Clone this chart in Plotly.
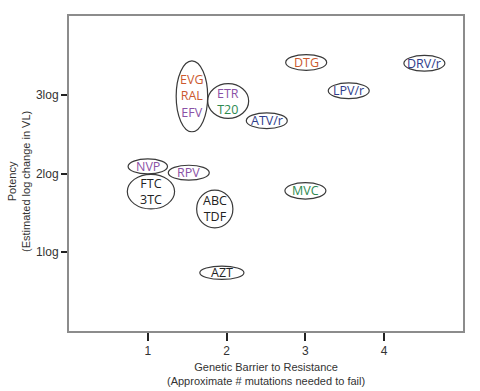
import plotly.graph_objects as go

# Drug groups (each group is circled together)
groups = [["EVG", "RAL", "EFV"], ["ETR", "T20"], ["NVP"], ["RPV"], ["FTC", "3TC"],
          ["ABC", "TDF"], ["AZT"], ["DTG"], ["DRV/r"], ["LPV/r"], ["ATV/r"], ["MVC"]]
barrier = [1.56, 2.02, 1.00, 1.52, 1.04, 1.85, 1.94, 3.01, 4.51, 3.55, 2.51, 3.00]
potency = [2.98, 2.92, 2.09, 2.01, 1.77, 1.55, 0.74, 3.41, 3.40, 3.05, 2.67, 1.78]

# Drug class of each drug (for text colour)
drug_class = {
    "EVG": "INSTI", "RAL": "INSTI", "DTG": "INSTI",
    "EFV": "NNRTI", "ETR": "NNRTI", "NVP": "NNRTI", "RPV": "NNRTI",
    "T20": "Entry", "MVC": "Entry",
    "DRV/r": "PI", "LPV/r": "PI", "ATV/r": "PI",
    "FTC": "NRTI", "3TC": "NRTI", "ABC": "NRTI", "TDF": "NRTI", "AZT": "NRTI",
}
x_ticks = [1, 2, 3, 4]
y_ticks = [1, 2, 3]
y_ticktext = ["1log", "2log", "3log"]
x_title = "Genetic Barrier to Resistance<br>(Approximate # mutations needed to fail)"
y_title = "Potency<br>(Estimated log change in VL)"

# Styles
class_colors = {"INSTI": "#cc5a30", "NNRTI": "#8a52a6", "Entry": "#2e8a50",
                "PI": "#2f3d8c", "NRTI": "#222222"}
ell_rx = [0.20, 0.26, 0.25, 0.26, 0.30, 0.23, 0.28, 0.26, 0.26, 0.26, 0.26, 0.26]
ell_ry = [0.45, 0.22, 0.095, 0.095, 0.22, 0.24, 0.085, 0.10, 0.10, 0.10, 0.10, 0.105]

fig = go.Figure()
fig.add_trace(go.Scatter(x=barrier, y=potency, mode="markers",
                         marker=dict(size=1, opacity=0), hoverinfo="skip",
                         showlegend=False))

for g, x, y, rx, ry in zip(groups, barrier, potency, ell_rx, ell_ry):
    fig.add_shape(type="circle", xref="x", yref="y",
                  x0=x - rx, x1=x + rx, y0=y - ry, y1=y + ry,
                  line=dict(color="#3a3a3a", width=1.2), fillcolor="rgba(0,0,0,0)")
    text = "<br>".join(
        f"<span style='color:{class_colors[drug_class[d]]}'>{d}</span>" for d in g)
    fig.add_annotation(x=x, y=y, xref="x", yref="y", text=text, showarrow=False,
                       xanchor="center", yanchor="middle",
                       font=dict(family="Open Sans", size=12.5, color="#222"))

title_font = dict(family="Liberation Sans", size=11, color="#333")
fig.add_annotation(text=x_title, xref="paper", yref="paper", x=0.5, y=0,
                   xanchor="center", yanchor="middle", yshift=-42.5,
                   showarrow=False, font=title_font)
fig.add_annotation(text=y_title, xref="paper", yref="paper", x=0, y=0.473,
                   xanchor="center", yanchor="middle", xshift=-50, textangle=-90,
                   showarrow=False, font=title_font)

axis_common = dict(showline=True, linecolor="#8c8c8c", linewidth=2, mirror=True,
                   ticks="outside", tickcolor="#222", tickwidth=2, showgrid=False,
                   zeroline=False, automargin=False,
                   tickfont=dict(family="Liberation Sans", size=12, color="#333"))

fig.update_layout(
    width=480, height=391,
    margin=dict(l=69, r=17, t=16, b=60),
    paper_bgcolor="white", plot_bgcolor="white",
    xaxis=dict(range=[0, 5], tickvals=x_ticks, ticklen=8, **axis_common),
    yaxis=dict(range=[0, 4], tickvals=y_ticks, ticktext=y_ticktext, ticklen=6,
               **axis_common),
)

fig.write_html("out.html", config={"displayModeBar": False},
               post_script="document.body.style.margin='0';")
